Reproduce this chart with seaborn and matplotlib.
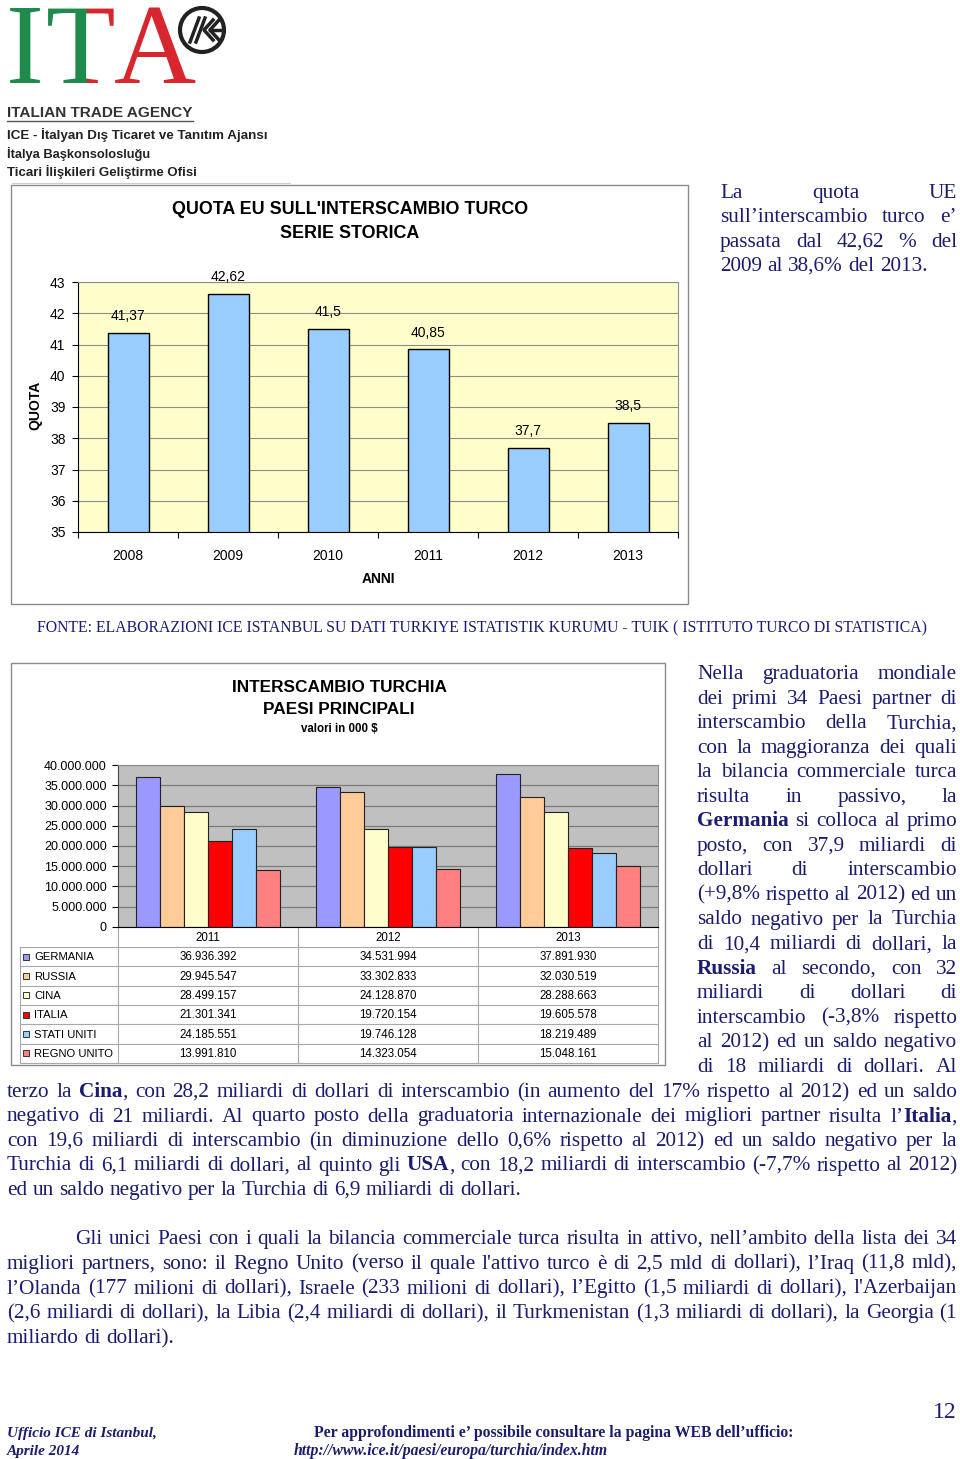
import matplotlib
matplotlib.use('Agg')
import matplotlib.pyplot as plt
import seaborn as sns
import numpy as np
import pandas as pd
from matplotlib.patches import Rectangle, Circle
from matplotlib.lines import Line2D
from matplotlib.ticker import FuncFormatter
from matplotlib.transforms import Bbox
from matplotlib import font_manager

# ---------------- data ----------------
quota_years = ['2008', '2009', '2010', '2011', '2012', '2013']
quota_values = [41.37, 42.62, 41.5, 40.85, 37.7, 38.5]

trade_years = ['2011', '2012', '2013']
countries = ['GERMANIA', 'RUSSIA', 'CINA', 'ITALIA', 'STATI UNITI', 'REGNO UNITO']
germania = [36936392, 34531994, 37891930]
russia = [29945547, 33302833, 32030519]
cina = [28499157, 24128870, 28288663]
italia = [21301341, 19720154, 19605578]
stati_uniti = [24185551, 19746128, 18219489]
regno_unito = [13991810, 14323054, 15048161]
country_colors = ['#9999FF', '#FFCC99', '#FFFFCC', '#FF0000', '#99CCFF', '#FF8080']

# ---------------- setup ----------------
W, H = 960, 1459
NAVY = '#1c1c6e'
SANS = 'Liberation Sans'
SERIF = 'Liberation Serif'
names = {f.name for f in font_manager.fontManager.ttflist}
NARROW = 'Liberation Sans Narrow' if 'Liberation Sans Narrow' in names else 'Liberation Sans'
plt.rcParams['font.family'] = SANS

fig = plt.figure(figsize=(9.6, 14.59), dpi=100)
ov = fig.add_axes([0, 0, 1, 1])
ov.set_xlim(0, W)
ov.set_ylim(H, 0)
ov.axis('off')


def axes_px(x0, y0, x1, y1):
    return fig.add_axes([x0 / W, 1 - y1 / H, (x1 - x0) / W, (y1 - y0) / H])


renderer = fig.canvas.get_renderer()


def parse_words(line):
    words = []
    bold = False
    for tok in line.split(' '):
        if tok == '':
            continue
        runs = []
        parts = tok.split('**')
        for i, p in enumerate(parts):
            if i > 0:
                bold = not bold
            if p:
                runs.append((p, bold))
        words.append(runs)
    return words


def text_w(s, size, family, weight='normal', style='normal'):
    t = ov.text(0, 0, s, fontsize=size, family=family, fontweight=weight, fontstyle=style)
    w = t.get_window_extent(renderer).width
    t.remove()
    return w


def fit_size(s, target, family, weight='normal', style='normal'):
    return 10.0 * target / text_w(s, 10.0, family, weight, style)


def draw_line(line, x0, x1, yc, size=15.3, justify=True, color=NAVY, family=SERIF):
    words = parse_words(line)
    arts, widths = [], []
    for runs in words:
        wa, w = [], 0
        for txt, b in runs:
            t = ov.text(0, 0, txt, fontsize=size, family=family,
                        fontweight='bold' if b else 'normal', color=color,
                        va='baseline', ha='left')
            tw = t.get_window_extent(renderer).width
            wa.append((t, tw))
            w += tw
        arts.append(wa)
        widths.append(w)
    sp = text_w('n n', size, family) - text_w('nn', size, family)
    total = sum(widths)
    if justify and len(words) > 1:
        gap = (x1 - x0 - total) / (len(words) - 1)
    else:
        gap = sp
    x = x0
    base = yc + 6
    for wa, w in zip(arts, widths):
        xx = x
        for t, tw in wa:
            t.set_position((xx, base))
            xx += tw
        x += w + gap


# ---------------- logo ----------------
GREEN = '#1e8a4c'
RED = '#d8262e'
ov.text(6, 83, 'I', fontsize=82, family=SERIF, color=GREEN, va='baseline', ha='left')
tg = ov.text(46, 83, 'T', fontsize=82, family=SERIF, color=GREEN, va='baseline', ha='left')
tr = ov.text(46, 83, 'T', fontsize=82, family=SERIF, color=RED, va='baseline', ha='left')
tg.set_clip_box(Bbox([[0, H - 90], [87, H]]))
tg.set_clip_on(True)
tr.set_clip_box(Bbox([[87, H - 90], [200, H]]))
tr.set_clip_on(True)
ov.text(114, 83, 'A', fontsize=82, family=SERIF, color=RED, va='baseline', ha='left')
ov.add_patch(Circle((202, 30), 22, fill=False, ec='#222222', lw=3))
for (xa, ya, xb, yb) in [(190, 42, 199, 18), (196, 42, 205, 18)]:
    ov.add_line(Line2D([xa, xb], [ya, yb], color='#222222', lw=2.5))
for dx in (0, 6):
    ov.add_line(Line2D([213 + dx, 204 + dx, 213 + dx], [20, 30, 40], color='#222222', lw=2.5))
ov.add_line(Line2D([210, 220], [30, 30], color='#222222', lw=2.5))

s_agency = 'ITALIAN TRADE AGENCY'
ov.text(7, 117, s_agency, fontsize=fit_size(s_agency, 185, NARROW, 'bold'), family=NARROW,
        fontweight='bold', color='#333333', va='baseline', ha='left')
ov.add_line(Line2D([7, 193], [121, 121], color='#555555', lw=1))
logo_lines = [('ICE - İtalyan Dış Ticaret ve Tanıtım Ajansı', 139, 261),
              ('İtalya Başkonsolosluğu', 158, 143),
              ('Ticari İlişkileri Geliştirme Ofisi', 176, 191)]
for txt, yb, wt in logo_lines:
    ov.text(7, yb, txt, fontsize=fit_size(txt, wt, NARROW, 'bold'), family=NARROW,
            fontweight='bold', color='#222222', va='baseline', ha='left')
ov.add_line(Line2D([12, 290], [183, 183], color='#cccccc', lw=0.8))

# ---------------- chart 1 ----------------
ov.add_patch(Rectangle((11, 185), 677, 419, fill=False, ec='#8a8a8a', lw=1))
ov.text(350, 210, "QUOTA EU SULL'INTERSCAMBIO TURCO", fontsize=12.9, fontweight='bold',
        family=SANS, ha='center', va='center')
ov.text(350, 233, 'SERIE STORICA', fontsize=12.9, fontweight='bold', family=SANS,
        ha='center', va='center')

ax1 = axes_px(78, 282, 678, 532)
sns.barplot(x=quota_years, y=quota_values, order=quota_years, color='#99CCFF',
            edgecolor='black', linewidth=1, width=0.41, saturation=1,
            errorbar=None, ax=ax1)
ax1.set_facecolor('#FFFFCC')
ax1.set_ylim(35, 43)
ax1.set_xlim(-0.5, 5.5)
ax1.set_yticks(range(35, 44))
ax1.yaxis.grid(True, color='#8c8c8c', lw=0.8)
ax1.set_axisbelow(True)
ax1.tick_params(axis='y', length=4, width=0.8, pad=5, labelsize=10)
ax1.tick_params(axis='x', which='major', length=0, pad=12, labelsize=10)
ax1.set_xticks(np.arange(-0.5, 6, 1), minor=True)
ax1.tick_params(axis='x', which='minor', length=4, width=0.8)
for s in ['top', 'right']:
    ax1.spines[s].set_color('#8c8c8c')
    ax1.spines[s].set_linewidth(0.8)
for s in ['left', 'bottom']:
    ax1.spines[s].set_color('black')
    ax1.spines[s].set_linewidth(0.8)
ax1.set_xlabel('ANNI', fontsize=10, fontweight='bold', va='center')
ax1.xaxis.set_label_coords(0.5, -(579 - 532) / 250)
ax1.set_ylabel('QUOTA', fontsize=10, fontweight='bold', va='center')
ax1.yaxis.set_label_coords((35 - 78) / 600, (532 - 405) / 250)
for i, v in enumerate(quota_values):
    ax1.annotate(str(v).replace('.', ','), (i, v), xytext=(0, 12),
                 textcoords='offset points', ha='center', va='center', fontsize=10)

# text right of chart 1
block1 = ['La quota UE',
          'sull’interscambio turco e’',
          'passata dal 42,62 % del',
          '2009 al 38,6% del 2013.']
for i, ln in enumerate(block1):
    draw_line(ln, 720, 957, [192, 216, 241, 265][i], justify=(i < len(block1) - 1))

ov.text(37, 632, 'FONTE: ELABORAZIONI ICE ISTANBUL SU DATI TURKIYE ISTATISTIK KURUMU - TUIK ( ISTITUTO TURCO DI STATISTICA)',
        fontsize=11.33, family=SERIF, color=NAVY, va='baseline', ha='left')

# ---------------- chart 2 ----------------
ov.add_patch(Rectangle((11, 663), 654, 402, fill=False, ec='#8a8a8a', lw=1))
ov.text(339, 688, 'INTERSCAMBIO TURCHIA', fontsize=12.4, fontweight='bold', ha='center', va='center')
ov.text(339, 710, 'PAESI PRINCIPALI', fontsize=12.4, fontweight='bold', ha='center', va='center')
ov.text(339, 729, 'valori in 000 $', fontsize=8.3, fontweight='bold', ha='center', va='center')

series = [germania, russia, cina, italia, stati_uniti, regno_unito]
rows = []
for c, vals in zip(countries, series):
    for y, v in zip(trade_years, vals):
        rows.append({'anno': y, 'paese': c, 'valore': v})
df = pd.DataFrame(rows)

ax2 = axes_px(118, 765, 658, 927)
sns.barplot(data=df, x='anno', y='valore', hue='paese', order=trade_years,
            hue_order=countries, palette=country_colors, width=0.8, saturation=1,
            edgecolor='#222222', linewidth=0.8, errorbar=None, legend=False, ax=ax2)
ax2.set_facecolor('#C0C0C0')
ax2.set_ylim(0, 40e6)
ax2.set_xlim(-0.5, 2.5)
ax2.set_yticks(np.arange(0, 40e6 + 1, 5e6))
ax2.yaxis.set_major_formatter(FuncFormatter(lambda v, p: f"{int(v):,}".replace(',', '.')))
ax2.yaxis.grid(True, color='#7a7a7a', lw=0.9)
ax2.set_axisbelow(True)
ax2.tick_params(axis='y', length=4, width=0.8, pad=4, labelsize=9)
ax2.set_xticks([])
ax2.set_xlabel('')
ax2.set_ylabel('')
for s in ['top', 'right']:
    ax2.spines[s].set_color('#8c8c8c')
    ax2.spines[s].set_linewidth(0.8)
ax2.spines['left'].set_color('#444444')
ax2.spines['bottom'].set_color('black')
for s in ['left', 'bottom']:
    ax2.spines[s].set_linewidth(0.8)

# data table
col_x = [118, 298, 478, 658]
left = 20
hdr_top, hdr_bot, tbl_bot = 927, 947, 1063
row_h = (tbl_bot - hdr_bot) / len(countries)
LC = '#a8a8a8'
for k in range(len(countries) + 1):
    yy = hdr_bot + k * row_h
    ov.add_line(Line2D([left, col_x[-1]], [yy, yy], color=LC, lw=0.8))
for xx in col_x:
    ov.add_line(Line2D([xx, xx], [hdr_top, tbl_bot], color=LC, lw=0.8))
ov.add_line(Line2D([left, left], [hdr_bot, tbl_bot], color=LC, lw=0.8))
for j, yr in enumerate(trade_years):
    ov.text((col_x[j] + col_x[j + 1]) / 2, (hdr_top + hdr_bot) / 2 + 1, yr, fontsize=8.3,
            ha='center', va='center')
for k, (c, vals, col) in enumerate(zip(countries, series, country_colors)):
    yc = hdr_bot + (k + 0.5) * row_h
    ov.add_patch(Rectangle((23, yc - 3), 6, 6, fc=col, ec='#333333', lw=0.7))
    ov.text(34, yc + 0.5, c, fontsize=8.1, ha='left', va='center')
    for j, v in enumerate(vals):
        ov.text((col_x[j] + col_x[j + 1]) / 2, yc + 0.5, f"{v:,}".replace(',', '.'),
                fontsize=8.3, ha='center', va='center')

# ---------------- body text ----------------
block2 = [
    'Nella graduatoria mondiale',
    'dei primi 34 Paesi partner di',
    'interscambio della Turchia,',
    'con la maggioranza dei quali',
    'la bilancia commerciale turca',
    'risulta in passivo, la',
    '**Germania** si colloca al primo',
    'posto, con 37,9 miliardi di',
    'dollari di interscambio',
    '(+9,8% rispetto al 2012) ed un',
    'saldo negativo per la Turchia',
    'di 10,4 miliardi di dollari, la',
    '**Russia** al secondo, con 32',
    'miliardi di dollari di',
    'interscambio (-3,8% rispetto',
    'al 2012) ed un saldo negativo',
    'di 18 miliardi di dollari. Al',
]
for i, ln in enumerate(block2):
    draw_line(ln, 697, 957, 673 + 24.55 * i)

block3 = [
    'terzo la **Cina**, con 28,2 miliardi di dollari di interscambio (in aumento del 17% rispetto al 2012) ed un saldo',
    'negativo di 21 miliardi. Al quarto posto della graduatoria internazionale dei migliori partner risulta l’**Italia**,',
    'con 19,6 miliardi di interscambio (in diminuzione dello 0,6% rispetto al 2012)  ed un saldo negativo per la',
    'Turchia di 6,1 miliardi di dollari, al quinto gli **USA**, con 18,2 miliardi di interscambio (-7,7% rispetto al 2012)',
    'ed un saldo negativo per la Turchia di 6,9 miliardi di dollari.',
]
for i, ln in enumerate(block3):
    draw_line(ln, 7, 957, 1091 + 24.5 * i, justify=(i < len(block3) - 1))

block4 = [
    'Gli unici Paesi con i quali la bilancia commerciale turca risulta in attivo, nell’ambito della lista dei 34',
    "migliori partners, sono: il Regno Unito (verso il quale l'attivo turco  è di 2,5 mld di dollari), l’Iraq (11,8 mld),",
    "l’Olanda (177 milioni di dollari), Israele (233 milioni di dollari), l’Egitto (1,5 miliardi di dollari), l'Azerbaijan",
    '(2,6 miliardi di dollari), la Libia (2,4 miliardi di dollari), il Turkmenistan (1,3 miliardi di dollari), la Georgia (1',
    'miliardo di dollari).',
]
for i, ln in enumerate(block4):
    x0 = 75 if i == 0 else 7
    draw_line(ln, x0, 957, 1238 + 24.75 * i, justify=(i < len(block4) - 1))

# ---------------- footer ----------------
ov.text(957, 1418, '12', fontsize=17, family=SERIF, color=NAVY, ha='right', va='baseline')
ov.text(7, 1437, 'Ufficio ICE di Istanbul,', fontsize=11, family=SERIF, fontweight='bold',
        fontstyle='italic', color=NAVY, ha='left', va='baseline')
ov.text(7, 1455, 'Aprile 2014', fontsize=11, family=SERIF, fontweight='bold',
        fontstyle='italic', color=NAVY, ha='left', va='baseline')
ov.text(314, 1437, 'Per approfondimenti e’ possibile consultare la pagina WEB dell’ufficio:',
        fontsize=11.3, family=SERIF, fontweight='bold', color=NAVY, ha='left', va='baseline')
ov.text(294, 1455, 'http://www.ice.it/paesi/europa/turchia/index.htm', fontsize=11.3, family=SERIF,
        fontweight='bold', fontstyle='italic', color=NAVY, ha='left', va='baseline')

fig.savefig('out.png', dpi=100)
